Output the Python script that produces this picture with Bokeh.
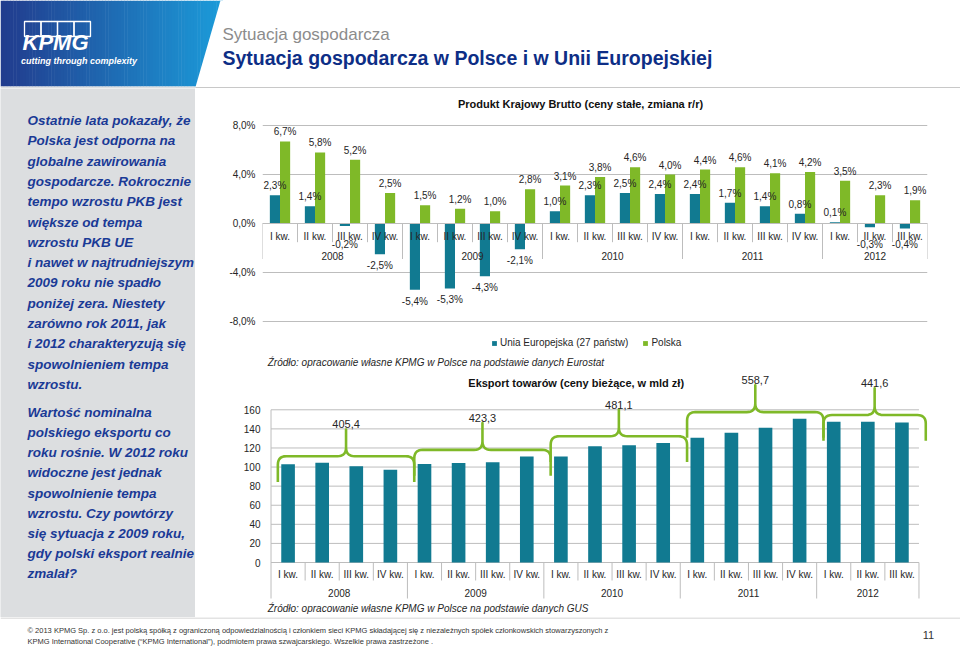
import numpy as np
from bokeh.plotting import figure
from bokeh.layouts import column, row
from bokeh.models import (FactorRange, Range1d, FixedTicker, Legend,
                          LegendItem, ColumnDataSource)
from bokeh.transform import dodge
from bokeh.core.properties import value
from bokeh.embed import file_html
from bokeh.resources import INLINE

# ---------------- data ----------------
years = ["2008", "2009", "2010", "2011", "2012"]
quarters = ["I kw.", "II kw.", "III kw.", "IV kw."]
quarters_per_year = [4, 4, 4, 4, 3]
factors = [(y, q) for y, n in zip(years, quarters_per_year) for q in quarters[:n]]

gdp_eu = [2.3, 1.4, -0.2, -2.5, -5.4, -5.3, -4.3, -2.1, 1.0, 2.3, 2.5, 2.4,
          2.4, 1.7, 1.4, 0.8, 0.1, -0.3, -0.4]
gdp_pl = [6.7, 5.8, 5.2, 2.5, 1.5, 1.2, 1.0, 2.8, 3.1, 3.8, 4.6, 4.0,
          4.4, 4.6, 4.1, 4.2, 3.5, 2.3, 1.9]
exports = [103.0, 104.4, 100.8, 97.2, 103.1, 104.2, 105.0, 111.0,
           111.0, 121.9, 122.9, 125.3, 130.8, 136.0, 141.3, 150.6,
           147.5, 147.5, 146.6]

gdp_ticks = [-8, -4, 0, 4, 8]
exp_ticks = [0, 20, 40, 60, 80, 100, 120, 140, 160]

gdp_title = "Produkt Krajowy Brutto (ceny stałe, zmiana r/r)"
exp_title = "Eksport towarów  (ceny bieżące, w mld zł)"
legend_eu = "Unia Europejska (27 państw)"
legend_pl = "Polska"
source_gdp = "Źródło: opracowanie własne KPMG w Polsce na podstawie danych Eurostat"
source_exp = "Źródło: opracowanie własne KPMG w Polsce na podstawie danych GUS"

header_small = "Sytuacja gospodarcza"
header_big = "Sytuacja gospodarcza w Polsce i w Unii Europejskiej"
para1 = ["Ostatnie lata pokazały, że", "Polska jest odporna na",
         "globalne zawirowania", "gospodarcze. Rokrocznie",
         "tempo wzrostu PKB jest", "większe od tempa", "wzrostu PKB UE",
         "i nawet w najtrudniejszym", "2009 roku nie spadło",
         "poniżej zera. Niestety", "zarówno rok 2011, jak",
         "i 2012 charakteryzują się", "spowolnieniem tempa", "wzrostu."]
para2 = ["Wartość nominalna", "polskiego eksportu co",
         "roku rośnie. W 2012 roku", "widoczne jest jednak",
         "spowolnienie tempa", "wzrostu. Czy powtórzy",
         "się sytuacja z 2009 roku,", "gdy polski eksport realnie", "zmalał?"]
footer_lines = ["© 2013 KPMG Sp. z o.o. jest polską spółką z ograniczoną odpowiedzialnością "
                "i członkiem sieci KPMG składającej się z niezależnych spółek członkowskich stowarzyszonych z",
                "KPMG International Cooperative (\u201cKPMG International\u201d), podmiotem prawa "
                "szwajcarskiego. Wszelkie prawa zastrzeżone ."]
page_no = "11"

# ---------------- style ----------------
FONT = "Liberation Sans"
TEAL = "#117a91"
GREEN = "#7fb928"
GRID = "#bdbdbd"
TXT = "#262626"
PANEL = "#dcdee0"
NAVY = "#1a3a96"

n_cat = len(factors)
bounds = [int(b) for b in np.cumsum([0] + quarters_per_year)]
q_sep = [b + k for b, n in zip(bounds[:-1], quarters_per_year) for k in range(1, n)]


def fmt(v, suffix=""):
    return f"{v:.1f}".replace(".", ",") + suffix


def deco_fig(w, h, x0, x1, y0, y1):
    p = figure(width=w, height=h, x_range=Range1d(x0, x1), y_range=Range1d(y1, y0),
               x_axis_type=None, y_axis_type=None, min_border=0,
               outline_line_color=None, toolbar_location=None, output_backend="svg")
    p.grid.visible = False
    return p


def txt(p, x, y, s, size, color, style="normal", align="left", baseline="middle"):
    p.text(x=[x], y=[y], text=[s], text_font=value(FONT), text_font_size=size,
           text_color=color, text_font_style=style, text_align=align,
           text_baseline=baseline)


# ---------------- header ----------------
hd = deco_fig(960, 88, 0, 960, 0, 88)
ns = 70
xs = np.linspace(0, 222, ns + 1)
c_a = np.array([0x22, 0x3c, 0x8e])
c_b = np.array([0x1c, 0x9b, 0xd9])
cols = []
for i in range(ns):
    t = i / (ns - 1)
    c = (c_a * (1 - t) + c_b * t).astype(int)
    cols.append("#%02x%02x%02x" % tuple(c))
hd.quad(left=xs[:-1], right=xs[1:] + 0.5, top=0, bottom=86, fill_color=cols, line_color=None)
hd.patch(x=[220, 230, 230, 195], y=[0, 0, 86.5, 86.5], fill_color="white", line_color=None)
hd.quad(left=[0], right=[195], top=[86], bottom=[89], fill_color=PANEL, line_color=None)
hd.segment(x0=[195], x1=[960], y0=[87], y1=[87], line_color="#c8c8c8", line_width=1)
txt(hd, 22, 41.7, "KPMG", "22px", "white", "bold italic")
txt(hd, 20.5, 60.5, "cutting through complexity", "9px", "white", "bold italic")
txt(hd, 222, 34, header_small, "17px", "#8c8c8c")
txt(hd, 222, 57, header_big, "19.5px", "#0d2e86", "bold")
bx = list(np.linspace(24, 90, 5))
hd.quad(left=bx[:-1], right=bx[1:], top=21.0, bottom=36.0, fill_alpha=0,
        line_color="white", line_alpha=1.0, line_width=1.3)

# ---------------- left panel ----------------
lp = deco_fig(195, 529, 0, 195, 88, 617)
lp.background_fill_color = PANEL
lp.border_fill_color = PANEL
lp.text(x=[27] * len(para1), y=[120 + 20.3 * i for i in range(len(para1))], text=para1,
        text_font=value(FONT), text_font_size="13.5px", text_font_style="bold italic",
        text_color=NAVY, text_baseline="middle")
lp.text(x=[27] * len(para2), y=[411.7 + 20.2 * i for i in range(len(para2))], text=para2,
        text_font=value(FONT), text_font_size="13.5px", text_font_style="bold italic",
        text_color=NAVY, text_baseline="middle")


def style_cat_axis(ax, standoff, line_color):
    ax.fixed_location = 0
    ax.axis_line_color = line_color
    ax.major_tick_line_color = None
    ax.minor_tick_line_color = None
    ax.major_tick_out = 0
    ax.major_tick_in = 0
    ax.major_label_standoff = standoff
    ax.major_label_text_font = FONT
    ax.major_label_text_font_size = "10px"
    ax.major_label_text_color = TXT
    ax.group_text_font = FONT
    ax.group_text_font_size = "10px"
    ax.group_text_font_style = "normal"
    ax.group_text_color = TXT
    ax.separator_line_color = None


def style_val_axis(ax, ticks, standoff, overrides=None):
    ax.ticker = FixedTicker(ticks=ticks)
    if overrides:
        ax.major_label_overrides = overrides
    ax.axis_line_color = None
    ax.major_tick_line_color = None
    ax.minor_tick_line_color = None
    ax.major_tick_out = 0
    ax.major_label_standoff = standoff
    ax.major_label_text_font = FONT
    ax.major_label_text_font_size = "10px"
    ax.major_label_text_color = TXT


# ---------------- chart 1: GDP ----------------
def X1(sx):
    return (sx - 262.0) / (666.0 / n_cat)


def Y1(sy):
    return (223.0 - sy) / 12.25


c1 = figure(width=765, height=266,
            x_range=FactorRange(factors=factors, range_padding=0, factor_padding=0,
                                group_padding=0, subgroup_padding=0),
            y_range=Range1d(Y1(354), Y1(88)), output_backend="svg", toolbar_location=None,
            min_border_left=67, min_border_right=32, min_border_top=0, min_border_bottom=0,
            outline_line_color=None)
c1.xgrid.visible = False
c1.ygrid.ticker = FixedTicker(ticks=gdp_ticks)
c1.ygrid.grid_line_color = GRID

src1 = ColumnDataSource(dict(x=factors, eu=gdp_eu, pl=gdp_pl))
r_eu = c1.vbar(x=dodge("x", -0.145, range=c1.x_range), top="eu", width=0.29,
               source=src1, fill_color=TEAL, line_color=None)
r_pl = c1.vbar(x=dodge("x", 0.145, range=c1.x_range), top="pl", width=0.29,
               source=src1, fill_color=GREEN, line_color=None)

for series, shift in ((gdp_eu, -0.145), (gdp_pl, 0.145)):
    for positive, base, yo in ((True, "bottom", -4), (False, "top", 6)):
        idx = [i for i, v in enumerate(series) if (v >= 0) == positive]
        if not idx:
            continue
        ss = ColumnDataSource(dict(
            x=[factors[i] for i in idx],
            y=[series[i] if positive else min(series[i], -0.8) for i in idx],
            t=[fmt(series[i], "%") for i in idx]))
        c1.text(x=dodge("x", shift, range=c1.x_range), y="y", text="t", source=ss,
                text_font=value(FONT), text_font_size="10px", text_color=TXT,
                text_align="center", text_baseline=base, y_offset=yo)

c1.segment(x0=q_sep, x1=q_sep, y0=0, y1=Y1(241.7), line_color=GRID)
c1.segment(x0=bounds, x1=bounds, y0=0, y1=Y1(258.5), line_color=GRID)

style_cat_axis(c1.xaxis[0], 7, GRID)
style_val_axis(c1.yaxis[0], gdp_ticks, 7, {t: fmt(t, "%") for t in gdp_ticks})

c1.text(x=[X1(580.5)], y=[Y1(103)], text=[gdp_title], text_font=value(FONT),
        text_font_size="11px", text_font_style="bold", text_color="#111",
        text_align="center", text_baseline="middle")
leg = Legend(items=[LegendItem(label=legend_eu, renderers=[r_eu]),
                    LegendItem(label=legend_pl, renderers=[r_pl])],
             location=(229, 6), orientation="horizontal", glyph_width=6, glyph_height=6,
             label_height=10, label_standoff=3, spacing=14, padding=0, margin=0,
             border_line_color=None, background_fill_alpha=0,
             label_text_font=FONT, label_text_font_size="10px", label_text_color=TXT)
c1.add_layout(leg)

s1 = deco_fig(765, 16, 195, 960, 354, 370)
txt(s1, 201, 362, source_gdp, "10px", TXT, "italic")

# ---------------- chart 2: exports ----------------
pad2 = 0.25
unit2 = 673.0 / (n_cat + 2 * pad2)
zero2 = 254.0 + pad2 * unit2


def X2(sx):
    return (sx - zero2) / unit2


def Y2(sy):
    return (562.0 - sy) / 0.9544


c2 = figure(width=765, height=230,
            x_range=FactorRange(factors=factors, range_padding=pad2,
                                range_padding_units="absolute", factor_padding=0,
                                group_padding=0, subgroup_padding=0),
            y_range=Range1d(Y2(600), Y2(370)), output_backend="svg", toolbar_location=None,
            min_border_left=59, min_border_right=33, min_border_top=0, min_border_bottom=0,
            outline_line_color=None)
c2.grid.visible = False
c2.segment(x0=0, x1=n_cat, y0=exp_ticks, y1=exp_ticks, line_color=GRID)
c2.segment(x0=[0], x1=[0], y0=[max(exp_ticks)], y1=[Y2(598)], line_color=GRID)
c2.segment(x0=bounds[1:], x1=bounds[1:], y0=0, y1=Y2(598), line_color=GRID)
c2.segment(x0=q_sep, x1=q_sep, y0=0, y1=Y2(580), line_color=GRID)

src2 = ColumnDataSource(dict(x=factors, v=exports))
c2.vbar(x="x", top="v", width=0.4, source=src2, fill_color=TEAL, line_color=None)


def qbez(p0, p1, p2, n=8):
    t = np.linspace(0, 1, n)
    bx_ = (1 - t) ** 2 * p0[0] + 2 * (1 - t) * t * p1[0] + t ** 2 * p2[0]
    by_ = (1 - t) ** 2 * p0[1] + 2 * (1 - t) * t * p1[1] + t ** 2 * p2[1]
    return list(zip(bx_, by_))


def brace(x0, x1, flat, end, tip, rx=0.25, ry=9.0):
    xm = (x0 + x1) / 2
    pts = [(x0, end)]
    pts += qbez((x0, flat - ry), (x0, flat), (x0 + rx, flat))
    pts += qbez((xm - rx, flat), (xm, flat), (xm, flat + ry))
    pts += [(xm, tip)]
    pts += qbez((xm, flat + ry), (xm, flat), (xm + rx, flat))
    pts += qbez((x1 - rx, flat), (x1, flat), (x1, flat - ry))
    pts += [(x1, end)]
    return [p[0] for p in pts], [p[1] for p in pts]


bxs, bys, tip_x, tip_y, sums = [], [], [], [], []
for b, n in zip(bounds[:-1], quarters_per_year):
    vals = exports[b:b + n]
    flat = max(vals) + 7
    x0, x1 = b + 0.2, b + n + 0.2
    xx, yy = brace(x0, x1, flat, flat - 27, flat + 28)
    bxs.append(xx)
    bys.append(yy)
    tip_x.append((x0 + x1) / 2)
    tip_y.append(flat + 28)
    sums.append(fmt(sum(vals)))
c2.multi_line(xs=bxs, ys=bys, line_color=GREEN, line_width=2.6, line_join="round")
c2.text(x=tip_x, y=tip_y, text=sums, text_font=value(FONT), text_font_size="11px",
        text_color=TXT, text_align="center", text_baseline="bottom", y_offset=-1)

style_cat_axis(c2.xaxis[0], 6, None)
style_val_axis(c2.yaxis[0], exp_ticks, 2)

c2.text(x=[X2(573)], y=[Y2(382)], text=[exp_title], text_font=value(FONT),
        text_font_size="11px", text_font_style="bold", text_color="#111",
        text_align="center", text_baseline="middle")

s2 = deco_fig(765, 17, 195, 960, 600, 617)
txt(s2, 201, 607.5, source_exp, "10px", TXT, "italic")

# ---------------- footer ----------------
ft = deco_fig(960, 31, 0, 960, 617, 648)
ft.segment(x0=[0], x1=[960], y0=[617.5], y1=[617.5], line_color="#c8c8c8", line_width=1)
ft.text(x=[27, 27], y=[630, 641], text=footer_lines, text_font=value(FONT),
        text_font_size="7.5px", text_color="#333", text_baseline="middle")
txt(ft, 928, 634, page_no, "11px", "#333", align="center")

page = column(hd, row(lp, column(c1, s1, c2, s2)), ft)
open("out.html", "w").write(file_html(page, INLINE))
